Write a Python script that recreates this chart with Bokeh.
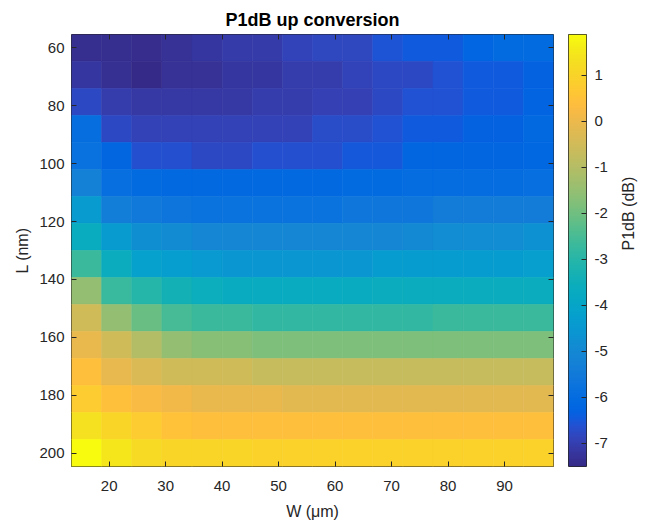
import numpy as np
from bokeh.plotting import figure
from bokeh.models import ColumnDataSource, Range1d, LinearAxis, FixedTicker, LinearColorMapper
from bokeh.transform import linear_cmap
from bokeh.layouts import row
from bokeh.embed import file_html
from bokeh.resources import INLINE

# ---------------- data ----------------
W_um = [16.0, 21.333, 26.667, 32.0, 37.333, 42.667, 48.0, 53.333,
        58.667, 64.0, 69.333, 74.667, 80.0, 85.333, 90.667, 96.0]
L_nm = [60.0, 69.333, 78.667, 88.0, 97.333, 106.667, 116.0, 125.333,
        134.667, 144.0, 153.333, 162.667, 172.0, 181.333, 190.667, 200.0]

# rows follow L_nm, columns follow W_um
P1dB = [
    [-7.38, -7.38, -7.42, -7.30, -7.18, -7.09, -7.09, -6.90, -6.83, -6.83, -6.57, -6.48, -6.48, -6.26, -6.05, -6.05],
    [-7.18, -7.34, -7.51, -7.32, -7.32, -7.18, -7.18, -7.04, -7.04, -6.90, -6.78, -6.78, -6.60, -6.48, -6.48, -6.30],
    [-6.78, -7.04, -7.16, -7.16, -7.16, -7.16, -7.06, -7.06, -6.97, -6.97, -6.80, -6.60, -6.60, -6.46, -6.46, -6.28],
    [-5.96, -6.80, -6.93, -6.93, -6.93, -6.93, -6.93, -6.93, -6.73, -6.73, -6.60, -6.47, -6.47, -6.30, -6.30, -6.15],
    [-5.82, -6.20, -6.66, -6.66, -6.80, -6.80, -6.66, -6.66, -6.66, -6.50, -6.50, -6.20, -6.20, -6.20, -6.20, -6.18],
    [-5.30, -5.90, -6.05, -6.12, -6.12, -6.12, -6.12, -6.12, -6.12, -6.06, -6.06, -5.98, -5.98, -5.98, -5.98, -5.92],
    [-4.41, -5.35, -5.55, -5.68, -5.77, -5.77, -5.77, -5.77, -5.77, -5.63, -5.63, -5.63, -5.44, -5.44, -5.44, -5.44],
    [-3.66, -4.41, -4.78, -4.92, -5.07, -5.07, -5.07, -5.07, -5.07, -5.07, -5.07, -4.98, -4.88, -4.88, -4.88, -4.74],
    [-2.67, -3.61, -4.17, -4.31, -4.45, -4.55, -4.55, -4.55, -4.55, -4.55, -4.36, -4.36, -4.36, -4.36, -4.36, -4.27],
    [-1.50, -2.70, -3.00, -3.37, -3.56, -3.70, -3.70, -3.70, -3.70, -3.70, -3.61, -3.61, -3.61, -3.61, -3.61, -3.61],
    [-0.51, -1.50, -2.10, -2.53, -2.67, -2.67, -2.81, -2.81, -2.81, -2.81, -2.81, -2.81, -2.67, -2.67, -2.67, -2.67],
    [-0.04, -0.51, -1.02, -1.50, -1.68, -1.68, -1.82, -1.82, -1.82, -1.82, -1.82, -1.82, -1.82, -1.82, -1.82, -1.82],
    [0.39, -0.08, -0.32, -0.51, -0.51, -0.51, -0.70, -0.70, -0.70, -0.70, -0.70, -0.70, -0.70, -0.70, -0.70, -0.70],
    [0.76, 0.43, 0.25, 0.10, -0.04, -0.04, -0.04, -0.18, -0.18, -0.18, -0.18, -0.18, -0.18, -0.18, -0.18, -0.18],
    [1.37, 1.04, 0.76, 0.53, 0.41, 0.41, 0.41, 0.41, 0.41, 0.41, 0.41, 0.41, 0.41, 0.41, 0.41, 0.41],
    [1.89, 1.47, 1.19, 1.04, 1.04, 1.04, 0.95, 0.95, 0.95, 0.95, 0.95, 0.95, 0.95, 0.95, 0.95, 0.95],
]

x_ticks = [20, 30, 40, 50, 60, 70, 80, 90]
y_ticks = [60, 80, 100, 120, 140, 160, 180, 200]
cb_ticks = [-7, -6, -5, -4, -3, -2, -1, 0, 1]
cb_tick_labels = ["-7", "-6", "-5", "-4", "-3", "-2", "-1", "0", "1"]

TITLE = "P1dB up conversion"
XLABEL = "W (\u03bcm)"
YLABEL = "L (nm)"
CBLABEL = "P1dB (dB)"

# ---------------- parula colormap (styling) ----------------
PARULA64 = [
    [0.2081, 0.1663, 0.5292], [0.2116, 0.1898, 0.5777], [0.2123, 0.2138, 0.6270], [0.2081, 0.2386, 0.6771],
    [0.1959, 0.2645, 0.7279], [0.1707, 0.2919, 0.7792], [0.1253, 0.3242, 0.8303], [0.0591, 0.3598, 0.8683],
    [0.0117, 0.3875, 0.8820], [0.0060, 0.4086, 0.8828], [0.0165, 0.4266, 0.8786], [0.0329, 0.4430, 0.8720],
    [0.0498, 0.4586, 0.8641], [0.0629, 0.4737, 0.8554], [0.0723, 0.4887, 0.8467], [0.0779, 0.5040, 0.8384],
    [0.0793, 0.5200, 0.8312], [0.0749, 0.5375, 0.8263], [0.0641, 0.5570, 0.8240], [0.0488, 0.5772, 0.8228],
    [0.0343, 0.5966, 0.8199], [0.0265, 0.6137, 0.8135], [0.0239, 0.6287, 0.8038], [0.0231, 0.6418, 0.7913],
    [0.0228, 0.6535, 0.7768], [0.0267, 0.6642, 0.7607], [0.0384, 0.6743, 0.7436], [0.0590, 0.6838, 0.7254],
    [0.0843, 0.6928, 0.7062], [0.1133, 0.7015, 0.6859], [0.1453, 0.7098, 0.6646], [0.1801, 0.7177, 0.6424],
    [0.2178, 0.7250, 0.6193], [0.2586, 0.7317, 0.5954], [0.3022, 0.7376, 0.5712], [0.3482, 0.7424, 0.5473],
    [0.3953, 0.7459, 0.5244], [0.4420, 0.7481, 0.5033], [0.4871, 0.7491, 0.4840], [0.5300, 0.7491, 0.4661],
    [0.5709, 0.7485, 0.4494], [0.6099, 0.7473, 0.4337], [0.6473, 0.7456, 0.4188], [0.6834, 0.7435, 0.4044],
    [0.7184, 0.7411, 0.3905], [0.7525, 0.7384, 0.3768], [0.7858, 0.7356, 0.3633], [0.8185, 0.7327, 0.3498],
    [0.8507, 0.7299, 0.3360], [0.8824, 0.7274, 0.3217], [0.9139, 0.7258, 0.3063], [0.9450, 0.7261, 0.2886],
    [0.9739, 0.7314, 0.2666], [0.9938, 0.7455, 0.2403], [0.9990, 0.7653, 0.2164], [0.9955, 0.7861, 0.1967],
    [0.9880, 0.8066, 0.1794], [0.9789, 0.8271, 0.1633], [0.9697, 0.8481, 0.1475], [0.9626, 0.8705, 0.1309],
    [0.9589, 0.8949, 0.1132], [0.9598, 0.9218, 0.0948], [0.9661, 0.9514, 0.0755], [0.9763, 0.9831, 0.0538],
]
_src = np.array(PARULA64)
_pos = np.linspace(0, 1, len(_src))
_new = np.linspace(0, 1, 256)
_rgb = np.stack([np.interp(_new, _pos, _src[:, k]) for k in range(3)], axis=1)
PARULA = ["#%02x%02x%02x" % tuple(int(round(c * 255)) for c in rgb) for rgb in _rgb]

FONT = "Liberation Sans"
INK = "#262626"

# ---------------- build ----------------
vals = np.array(P1dB)
lo, hi = float(vals.min()), float(vals.max())
dW = W_um[1] - W_um[0]
dL = L_nm[1] - L_nm[0]

xs, ys, zs = [], [], []
for i, Lv in enumerate(L_nm):
    for j, Wv in enumerate(W_um):
        xs.append(Wv); ys.append(Lv); zs.append(P1dB[i][j])
src = ColumnDataSource(dict(W=xs, L=ys, P=zs))

p = figure(width=568, height=524,
           x_range=Range1d(W_um[0] - dW / 2, W_um[-1] + dW / 2),
           y_range=Range1d(L_nm[-1] + dL / 2, L_nm[0] - dL / 2),
           output_backend="svg", toolbar_location=None, title=TITLE,
           min_border_left=71, min_border_right=15, min_border_top=34, min_border_bottom=58)

cmap = linear_cmap("P", PARULA, lo, hi)
p.rect(x="W", y="L", width=dW, height=dL, source=src,
       fill_color=cmap, line_color=cmap, line_width=0.6)

p.title.text_font = FONT
p.title.text_font_size = "18px"
p.title.text_font_style = "bold"
p.title.text_color = "#000000"
p.title.align = "center"

p.xgrid.visible = False
p.ygrid.visible = False
p.outline_line_color = INK
p.outline_line_width = 1
p.outline_line_alpha = 1
p.background_fill_color = "white"
p.border_fill_color = "white"


def style_axis(ax, ticks, show_labels=True):
    ax.ticker = FixedTicker(ticks=ticks)
    ax.major_tick_in = 5
    ax.major_tick_out = 0
    ax.minor_tick_line_color = None
    ax.major_tick_line_color = INK
    ax.axis_line_color = None
    ax.major_label_text_font = FONT
    if show_labels:
        ax.major_label_text_color = INK
        ax.major_label_text_font_size = "15px"
        ax.major_label_standoff = 7
    else:
        ax.major_label_text_color = None
        ax.major_label_text_font_size = "1px"
        ax.major_label_standoff = 0
    ax.axis_label_text_font = FONT
    ax.axis_label_text_font_size = "16px"
    ax.axis_label_text_font_style = "normal"
    ax.axis_label_text_color = INK


style_axis(p.xaxis[0], x_ticks)
style_axis(p.yaxis[0], y_ticks)
p.xaxis[0].axis_label = XLABEL
p.yaxis[0].axis_label = YLABEL
p.xaxis[0].major_label_standoff = 14
p.xaxis[0].axis_label_standoff = 9
p.yaxis[0].axis_label_standoff = 5

top_ax = LinearAxis()
style_axis(top_ax, x_ticks, show_labels=False)
p.add_layout(top_ax, "above")
right_ax = LinearAxis()
style_axis(right_ax, y_ticks, show_labels=False)
p.add_layout(right_ax, "right")

# ---------------- colorbar panel ----------------
cb = figure(width=80, height=524, x_range=Range1d(0, 1), y_range=Range1d(lo, hi),
            output_backend="svg", toolbar_location=None,
            x_axis_location=None, y_axis_location="right",
            min_border_left=0, min_border_right=46, min_border_top=34, min_border_bottom=58)
mapper = LinearColorMapper(palette=PARULA, low=lo, high=hi)
grad = np.linspace(lo, hi, 512).reshape(-1, 1)
cb.image(image=[grad], x=0, y=lo, dw=1, dh=hi - lo, color_mapper=mapper)
cb.xgrid.visible = False
cb.ygrid.visible = False
cb.outline_line_color = INK
cb.outline_line_width = 1
cb.outline_line_alpha = 1
style_axis(cb.yaxis[0], cb_ticks)
cb.yaxis[0].major_label_overrides = dict(zip(cb_ticks, cb_tick_labels))
cb.yaxis[0].major_label_standoff = 8
cb.yaxis[0].axis_label = CBLABEL
cb.yaxis[0].axis_label_standoff = 18
cb.yaxis[0].axis_label_text_baseline = "middle"
if "axis_label_orientation" in cb.yaxis[0].properties():
    cb.yaxis[0].axis_label_orientation = np.pi / 2

layout = row(p, cb, spacing=0)
open("out.html", "w").write(file_html(layout, INLINE))
